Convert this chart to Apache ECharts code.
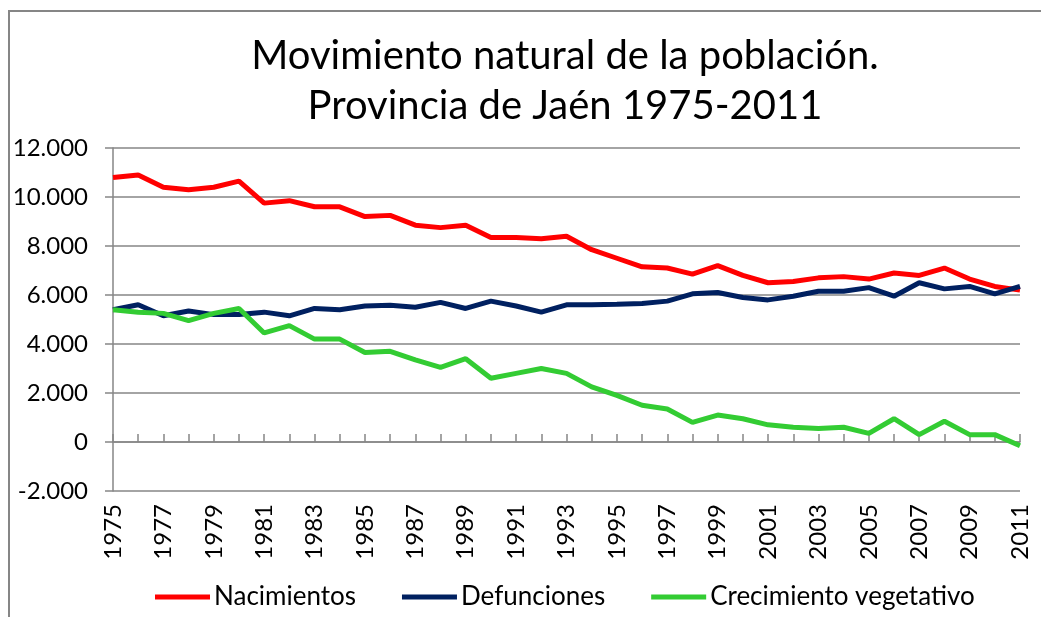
<!DOCTYPE html>
<html>
<head>
<meta charset="utf-8">
<script src="https://cdn.jsdelivr.net/npm/echarts@6/dist/echarts.min.js"></script>
<style>
  html, body { margin: 0; padding: 0; background: #fff; }
  #main { width: 1041px; height: 617px; }
</style>
</head>
<body>
<div id="main"></div>
<script>
var years = [];
for (var y = 1975; y <= 2011; y++) years.push(String(y));

var nacimientos = [10800, 10900, 10400, 10300, 10400, 10650, 9750, 9850, 9600, 9600,
  9200, 9250, 8850, 8750, 8850, 8350, 8350, 8300, 8400, 7850,
  7500, 7150, 7100, 6850, 7200, 6800, 6500, 6550, 6700, 6750,
  6650, 6900, 6800, 7100, 6650, 6350, 6200];
var defunciones = [5400, 5600, 5150, 5350, 5200, 5200, 5300, 5150, 5450, 5400,
  5550, 5580, 5500, 5700, 5450, 5750, 5550, 5300, 5600, 5600,
  5620, 5650, 5750, 6050, 6100, 5900, 5800, 5950, 6150, 6150,
  6300, 5950, 6500, 6250, 6350, 6050, 6350];
var crecimiento = [5400, 5300, 5250, 4950, 5250, 5450, 4450, 4750, 4200, 4200,
  3650, 3700, 3350, 3050, 3400, 2600, 2800, 3000, 2800, 2250,
  1900, 1500, 1350, 800, 1100, 950, 700, 600, 550, 600,
  350, 950, 300, 850, 300, 300, -150];

var gris = '#868686';
var fuente = 'Lato, "Noto Sans", sans-serif';

var myChart = echarts.init(document.getElementById('main'));

var option = {
  backgroundColor: '#fff',
  textStyle: { fontFamily: fuente, color: '#000' },
  title: {
    text: 'Movimiento natural de la población.\nProvincia de Jaén 1975-2011',
    left: 560,
    top: 26,
    textAlign: 'center',
    textStyle: { fontSize: 40, fontWeight: 'normal', lineHeight: 50, color: '#000', fontFamily: fuente }
  },
  graphic: [{
    type: 'polyline',
    shape: { points: [[9, 617], [9, 11], [1041, 11]] },
    style: { stroke: gris, lineWidth: 2, fill: null }
  }],
  legend: {
    bottom: 2,
    left: 150,
    icon: 'rect',
    itemWidth: 55,
    itemHeight: 5,
    itemGap: 46,
    textStyle: { fontSize: 26, color: '#000', fontFamily: fuente, padding: [0, 0, 0, -1] },
    data: ['Nacimientos', 'Defunciones', 'Crecimiento vegetativo']
  },
  grid: { left: 113, right: 21, top: 148, bottom: 126 },
  xAxis: [
    {
      type: 'category',
      data: years,
      boundaryGap: false,
      axisLine: { onZero: true, lineStyle: { color: gris, width: 1.5 } },
      axisTick: { inside: true, length: 8, interval: 0, lineStyle: { color: gris, width: 1.5 } },
      axisLabel: { show: false }
    },
    {
      type: 'category',
      data: years,
      boundaryGap: false,
      position: 'bottom',
      axisLine: { show: false, onZero: false },
      axisTick: { show: false },
      axisLabel: { rotate: 90, interval: 1, margin: 13, fontSize: 24, color: '#000', fontFamily: fuente }
    }
  ],
  yAxis: {
    type: 'value',
    min: -2000,
    max: 12000,
    interval: 2000,
    axisLine: { show: true, lineStyle: { color: gris, width: 1.5 } },
    axisTick: { show: true, length: 8, lineStyle: { color: gris, width: 1.5 } },
    splitLine: { lineStyle: { color: gris, width: 1.5 } },
    axisLabel: {
      margin: 25,
      fontSize: 24,
      color: '#000',
      fontFamily: fuente,
      formatter: function (v) {
        return String(v).replace(/\B(?=(\d{3})+(?!\d))/g, '.');
      }
    }
  },
  series: [
    {
      name: 'Nacimientos',
      type: 'line',
      data: nacimientos,
      symbol: 'none',
      color: '#ff0000',
      lineStyle: { width: 5, color: '#ff0000' }
    },
    {
      name: 'Defunciones',
      type: 'line',
      data: defunciones,
      symbol: 'none',
      color: '#002060',
      lineStyle: { width: 5, color: '#002060' }
    },
    {
      name: 'Crecimiento vegetativo',
      type: 'line',
      data: crecimiento,
      symbol: 'none',
      color: '#33cc33',
      lineStyle: { width: 5, color: '#33cc33' }
    }
  ]
};

myChart.setOption(option);
</script>
</body>
</html>
